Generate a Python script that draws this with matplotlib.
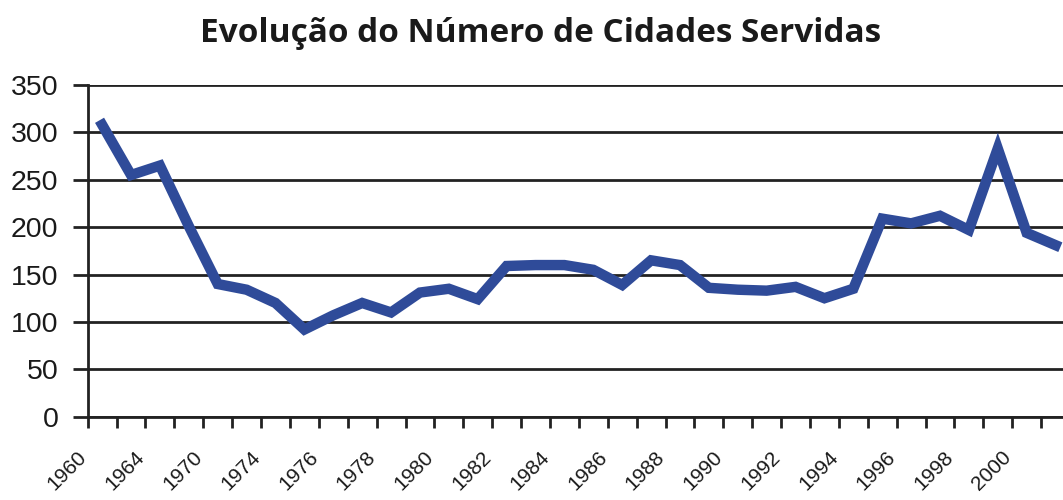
import matplotlib
matplotlib.use('Agg')
import matplotlib.pyplot as plt
import matplotlib.transforms as mtransforms
import numpy as np

# categories (only every other year is labelled on the axis)
years = [1960, 1962, 1964, 1967, 1970, 1972, 1974, 1975, 1976, 1977,
         1978, 1979, 1980, 1981, 1982, 1983, 1984, 1985, 1986, 1987,
         1988, 1989, 1990, 1991, 1992, 1993, 1994, 1995, 1996, 1997,
         1998, 1999, 2000, 2001]
cidades = [308, 255, 265, 201, 140, 134, 120, 92, 107, 120,
           110, 131, 135, 124, 159, 160, 160, 155, 139, 165,
           160, 136, 134, 133, 137, 125, 135, 209, 204, 212,
           197, 283, 194, 181]
yticks = [0, 50, 100, 150, 200, 250, 300, 350]

blue = '#2f4b99'
txt = '#1a1a1a'

fig = plt.figure(figsize=(10.63, 5.0), dpi=100)
ax = fig.add_axes([87.7/1063, 1-416.7/500, (1070-87.7)/1063, (416.7-85)/500])

x = np.arange(len(years))
ax.plot(x, cidades, color=blue, lw=7.5, solid_joinstyle='miter', zorder=3)

ax.set_yticks(yticks)
ax.set_yticklabels([str(v) for v in yticks], fontsize=20.5, color=txt,
                   family='Liberation Sans')
ax.yaxis.grid(True, color='#222222', lw=2)
ax.set_axisbelow(True)

# labels at category centres, tick marks on the boundaries
ax.set_xticks(x[::2])
ax.set_xticklabels([str(y) for y in years[::2]], rotation=45, ha='right',
                   va='top', rotation_mode='anchor', fontsize=15,
                   color=txt, family='Liberation Sans')
ax.tick_params(axis='x', which='major', length=0, pad=22)
shift = mtransforms.ScaledTranslation(-25/100, 0, fig.dpi_scale_trans)
for lab in ax.get_xticklabels():
    lab.set_transform(lab.get_transform() + shift)
ax.set_xticks(np.arange(-0.5, len(years)), minor=True)
ax.tick_params(axis='x', which='minor', length=8, width=2, color='#222222')
ax.tick_params(axis='y', length=11, width=2, color='#222222', pad=10)

ax.set_xlim(-0.5, len(years) - 0.5)
ax.set_ylim(0, 350)

for s in ['top', 'right']:
    ax.spines[s].set_visible(False)
for s in ['left', 'bottom']:
    ax.spines[s].set_linewidth(2)
    ax.spines[s].set_color('#222222')

fig.text(541/1063, 1-33/500, 'Evolução do Número de Cidades Servidas',
         ha='center', va='center', fontsize=24, fontweight='bold',
         family='Open Sans', color=txt)

fig.savefig('out.png', dpi=100)
